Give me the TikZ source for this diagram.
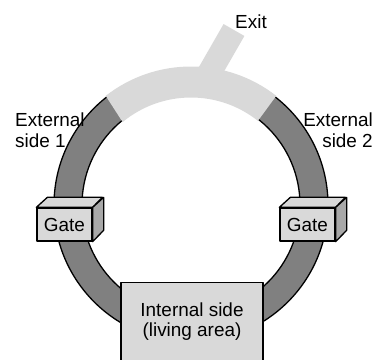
\documentclass[tikz,border=0pt]{standalone}
\usepackage{fontspec}
\setmainfont{Liberation Sans}
\definecolor{lightg}{HTML}{D9D9D9}
\definecolor{darkg}{HTML}{808080}
\definecolor{sideg}{HTML}{A8A8A8}
\begin{document}
\begin{tikzpicture}[x=1bp,y=1bp,
  lbl/.style={font=\fontsize{19}{20.5}\selectfont, inner sep=0pt},
  outl/.style={draw=black, line width=1.3bp, line join=round},
  gatebox/.style={outl, fill=lightg, minimum width=55bp, minimum height=33bp, inner sep=0pt, font=\fontsize{19}{20.5}\selectfont},
  roombox/.style={outl, fill=lightg, minimum width=142bp, minimum height=90bp, inner sep=0pt}
]
\useasboundingbox (0,0) rectangle (376,360);
\clip (0,0) rectangle (376,360);
\coordinate (c) at (191,155);
% dark ring with outline
\fill[darkg, even odd rule] (c) circle[radius=137] (c) circle[radius=109];
\draw[line width=1.3bp] (c) circle[radius=137] (c) circle[radius=109];
% light section on top
\fill[lightg] ([shift={(52:138.5)}]c) arc[start angle=52, end angle=128, radius=138.5]
  -- ([shift={(129.5:107.5)}]c) arc[start angle=129.5, end angle=51.5, radius=107.5] -- cycle;
% exit branch
\coordinate (exitbase) at (203,276);
\coordinate (exitend) at (234,330);
\draw[lightg, line width=24bp] (exitbase) -- (exitend);
\node[lbl, anchor=base] (exit) at (251,332) {Exit};
% labels
\node[lbl, align=left, anchor=north west] (ext1) at (15,247) {External\\side 1};
\node[lbl, align=right, anchor=north east] (ext2) at (373,247) {External\\side 2};
% gates
\foreach \n/\x in {g1/64.5, g2/307.5}{
  \node[gatebox] (\n) at (\x,135.5) {Gate};
  \draw[outl, fill=lightg] (\n.north west) -- ++(11,10) -- ++(55,0) -- (\n.north east) -- cycle;
  \draw[outl, fill=sideg] (\n.north east) -- ++(11,10) -- ++(0,-33) -- (\n.south east) -- cycle;
}
% internal side
\node[roombox, anchor=north] (room) at (192,78) {};
\node[lbl, align=center, anchor=north] (roomtxt) at (192,57.5) {Internal side\\(living area)};
\end{tikzpicture}
\end{document}
